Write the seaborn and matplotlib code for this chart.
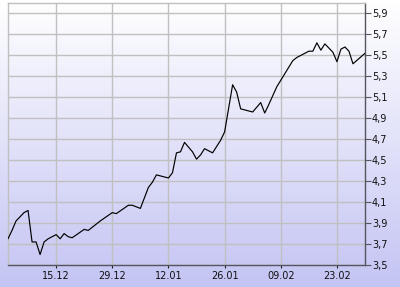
import numpy as np
import pandas as pd
import matplotlib
matplotlib.use("Agg")
import matplotlib.pyplot as plt
import matplotlib.dates as mdates
from matplotlib.ticker import FuncFormatter, MultipleLocator
import seaborn as sns

dates = ["2008-12-03", "2008-12-04", "2008-12-05", "2008-12-06", "2008-12-07",
         "2008-12-08", "2008-12-09", "2008-12-10", "2008-12-11", "2008-12-12",
         "2008-12-13", "2008-12-14", "2008-12-15", "2008-12-16", "2008-12-17",
         "2008-12-18", "2008-12-19", "2008-12-22", "2008-12-23", "2008-12-26",
         "2008-12-29", "2008-12-30", "2009-01-02", "2009-01-03", "2009-01-05",
         "2009-01-07", "2009-01-08", "2009-01-09", "2009-01-12", "2009-01-13",
         "2009-01-14", "2009-01-15", "2009-01-16", "2009-01-18", "2009-01-19",
         "2009-01-20", "2009-01-21", "2009-01-23", "2009-01-25", "2009-01-26",
         "2009-01-28", "2009-01-29", "2009-01-30", "2009-02-02", "2009-02-04",
         "2009-02-05", "2009-02-06", "2009-02-08", "2009-02-12", "2009-02-13",
         "2009-02-16", "2009-02-17", "2009-02-18", "2009-02-19", "2009-02-20",
         "2009-02-22", "2009-02-23", "2009-02-24", "2009-02-25", "2009-02-26",
         "2009-02-27", "2009-03-02"]
values = [3.75, 3.83, 3.92, 3.96, 4.00, 4.02, 3.72, 3.72, 3.60, 3.72,
          3.75, 3.77, 3.79, 3.75, 3.80, 3.77, 3.76, 3.84, 3.83, 3.92,
          4.00, 3.99, 4.07, 4.07, 4.04, 4.24, 4.29, 4.36, 4.33, 4.38,
          4.57, 4.58, 4.67, 4.58, 4.51, 4.55, 4.61, 4.57, 4.69, 4.77,
          5.22, 5.15, 4.99, 4.96, 5.05, 4.95, 5.03, 5.20, 5.45, 5.48,
          5.54, 5.54, 5.62, 5.55, 5.61, 5.53, 5.44, 5.56, 5.58, 5.54,
          5.42, 5.52]
x_ticks = ["2008-12-15", "2008-12-29", "2009-01-12", "2009-01-26",
           "2009-02-09", "2009-02-23"]
x_range = ["2008-12-03", "2009-03-02"]
y_range = [3.5, 6.0]
y_ticks = [3.5, 3.7, 3.9, 4.1, 4.3, 4.5, 4.7, 4.9, 5.1, 5.3, 5.5, 5.7, 5.9]

df = pd.DataFrame({"date": pd.to_datetime(dates), "value": values})

sns.set_style("white")
plt.rcParams["font.family"] = ["DejaVu Sans"]

fig = plt.figure(figsize=(4.0, 2.87), dpi=100)

# background gradient over the whole figure
bg = fig.add_axes([0, 0, 1, 1], zorder=-5)
top = np.array([1.0, 1.0, 1.0])
bot = np.array([196, 196, 244]) / 255.0
t = np.linspace(0, 1, 256)[:, None]
grad = (top[None, :] * (1 - t) + bot[None, :] * t)[:, None, :]
bg.imshow(grad, aspect="auto", extent=[0, 1, 0, 1], origin="upper")
bg.axis("off")

ax = fig.add_axes([8 / 400, 22 / 287, 357 / 400, 262 / 287])
ax.set_facecolor("none")

sns.lineplot(data=df, x="date", y="value", ax=ax, color="black", lw=0.85,
             zorder=3)

ax.set_xlim(pd.to_datetime(x_range[0]), pd.to_datetime(x_range[1]))
ax.set_ylim(*y_range)
ax.set_xticks(pd.to_datetime(x_ticks))
ax.xaxis.set_major_formatter(mdates.DateFormatter("%d.%m"))
ax.set_yticks(y_ticks)
ax.yaxis.set_major_formatter(FuncFormatter(lambda v, p: f"{v:.1f}".replace(".", ",")))

ax.yaxis.tick_right()
ax.grid(True, color="#c0c0c0", lw=1.0)
ax.set_axisbelow(True)
ax.set_xlabel("")
ax.set_ylabel("")

for s in ["left", "top"]:
    ax.spines[s].set_color("#c0c0c0")
    ax.spines[s].set_linewidth(1.0)
for s in ["right", "bottom"]:
    ax.spines[s].set_color("#55555f")
    ax.spines[s].set_linewidth(1.0)

ax.tick_params(axis="y", which="both", right=True, left=False, length=4,
               width=0.8, color="#55555f", pad=1, labelsize=7, labelcolor="#101010")
ax.tick_params(axis="x", which="both", bottom=True, length=2, width=0.8,
               color="#202020", pad=2, labelsize=7, labelcolor="#101010")

fig.savefig("out.png", dpi=100)
